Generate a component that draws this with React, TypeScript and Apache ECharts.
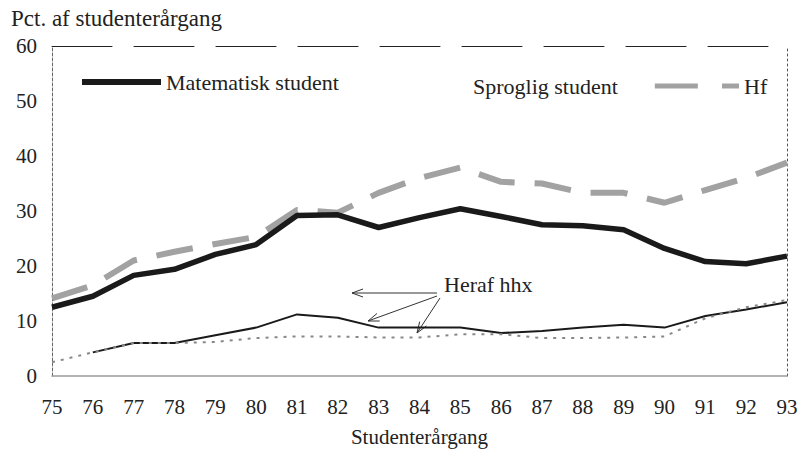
import React, { useEffect, useRef } from "react";
import * as echarts from "echarts";

const years = ["75", "76", "77", "78", "79", "80", "81", "82", "83", "84", "85", "86", "87", "88", "89", "90", "91", "92", "93"];
const matematisk = [12.5, 14.5, 18.3, 19.4, 22.1, 23.9, 29.2, 29.3, 27.0, 28.8, 30.4, 29.0, 27.5, 27.3, 26.6, 23.2, 20.8, 20.4, 21.8];
const sproglig = [14.1, 16.5, 21.0, 22.6, 24.0, 25.3, 30.2, 29.7, 33.3, 36.0, 37.9, 35.3, 35.0, 33.3, 33.3, 31.5, 33.8, 36.0, 38.8];
const matematiskHhx = [null, 4.3, 6.0, 6.0, 7.4, 8.8, 11.2, 10.6, 8.8, 8.8, 8.8, 7.8, 8.2, 8.8, 9.3, 8.8, 10.9, 12.1, 13.4];
const sprogligHhx = [2.5, 4.3, 6.0, 6.0, 6.2, 6.9, 7.2, 7.2, 7.0, 7.0, 7.6, 7.6, 6.9, 6.9, 7.0, 7.2, 10.5, 12.5, 13.8];
const hf: (number | null)[] = years.map(() => null);

const FONT = "'Liberation Serif', 'DejaVu Serif', serif";
const BLACK = "#1a1a1a";
const GREY = "#a2a2a2";

// annotation arrows: [tailX, tailY, tipX, tipY]
const arrows = [
  [437, 293, 352, 293],
  [437, 296, 368, 321],
  [440, 298, 417, 333],
];

function arrowGraphics() {
  const els: any[] = [];
  arrows.forEach(([tx, ty, hx, hy]) => {
    const dx = hx - tx;
    const dy = hy - ty;
    const len = Math.sqrt(dx * dx + dy * dy);
    const ux = dx / len;
    const uy = dy / len;
    const bx = hx - ux * 11;
    const by = hy - uy * 11;
    const px = -uy * 4;
    const py = ux * 4;
    els.push({
      type: "line",
      shape: { x1: tx, y1: ty, x2: hx, y2: hy },
      style: { stroke: "#333", lineWidth: 1 },
      silent: true,
    });
    els.push({
      type: "polyline",
      shape: { points: [[bx + px, by + py], [hx, hy], [bx - px, by - py]] },
      style: { stroke: "#333", lineWidth: 1, fill: null },
      silent: true,
    });
  });
  return els;
}

export default function App() {
  const ref = useRef<HTMLDivElement>(null);
  useEffect(() => {
    if (!ref.current) return;
    const chart = echarts.init(ref.current, null, { renderer: "svg" });
    chart.setOption({
      animation: false,
      backgroundColor: "#ffffff",
      title: {
        text: "Pct. af studenterårgang",
        left: 6,
        top: 2,
        textStyle: { fontFamily: FONT, fontSize: 23, fontWeight: "normal", color: "#222" },
      },
      legend: [
        {
          data: ["Matematisk student"],
          left: 77,
          top: 66,
          icon: "rect",
          itemWidth: 79,
          itemHeight: 6,
          textStyle: { fontFamily: FONT, fontSize: 22, color: "#222" },
        },
        {
          data: ["Sproglig student"],
          left: 468,
          top: 70,
          align: "right",
          icon: "rect",
          itemWidth: 43,
          itemHeight: 5,
          textStyle: { fontFamily: FONT, fontSize: 22, color: "#222", padding: [0, 32, 0, 0] },
        },
        {
          data: ["Hf"],
          left: 717,
          top: 70,
          icon: "rect",
          itemWidth: 17,
          itemHeight: 5,
          textStyle: { fontFamily: FONT, fontSize: 22, color: "#222" },
        },
      ],
      grid: { left: 52, right: 21, top: 46, bottom: 75, containLabel: false },
      xAxis: [
        {
          type: "category",
          data: years,
          boundaryGap: false,
          axisTick: { show: false },
          axisLine: { lineStyle: { color: "#9a9a9a", width: 1.5 } },
          axisLabel: { fontFamily: FONT, fontSize: 21, color: "#222", margin: 20 },
          name: "Studenterårgang",
          nameLocation: "middle",
          nameGap: 50,
          nameTextStyle: { fontFamily: FONT, fontSize: 21, color: "#222" },
        },
        {
          type: "category",
          data: years,
          boundaryGap: false,
          position: "top",
          axisTick: { show: false },
          axisLabel: { show: false },
          axisLine: { show: true, onZero: false, lineStyle: { color: "#222", width: 1, type: [60, 22] } },
        },
      ],
      yAxis: [
        {
          type: "value",
          min: 0,
          max: 60,
          interval: 10,
          axisTick: { show: false },
          splitLine: { show: false },
          axisLine: { show: true, lineStyle: { color: "#666", width: 1, type: [3, 2] } },
          axisLabel: { fontFamily: FONT, fontSize: 21, color: "#222", margin: 15 },
        },
        {
          type: "value",
          min: 0,
          max: 60,
          interval: 10,
          position: "right",
          axisTick: { show: false },
          splitLine: { show: false },
          axisLabel: { show: false },
          axisLine: { show: true, onZero: false, lineStyle: { color: "#555", width: 1, type: [2, 3] } },
        },
      ],
      series: [
        {
          name: "Sproglig student",
          type: "line",
          data: sproglig,
          symbol: "none",
          color: GREY,
          lineStyle: { color: GREY, width: 6, type: [37, 20] },
          z: 2,
        },
        {
          name: "Matematisk student",
          type: "line",
          data: matematisk,
          symbol: "none",
          color: BLACK,
          lineStyle: { color: BLACK, width: 5.5 },
          z: 3,
        },
        {
          name: "Hf",
          type: "line",
          data: hf,
          symbol: "none",
          color: GREY,
          lineStyle: { color: GREY, width: 5 },
        },
        {
          name: "Matematisk hhx",
          type: "line",
          data: matematiskHhx,
          symbol: "none",
          color: BLACK,
          lineStyle: { color: BLACK, width: 2 },
          z: 4,
        },
        {
          name: "Sproglig hhx",
          type: "line",
          data: sprogligHhx,
          symbol: "none",
          color: "#777",
          lineStyle: { color: "#888", width: 2, type: [3, 6] },
          z: 4,
        },
      ],
      graphic: [
        {
          type: "text",
          left: 444,
          top: 273,
          style: { text: "Heraf hhx", fontFamily: FONT, fontSize: 22, fill: "#222" },
          silent: true,
        },
        ...arrowGraphics(),
      ],
    });
    return () => chart.dispose();
  }, []);
  return <div ref={ref} style={{ position: "absolute", left: 0, top: 0, width: 808, height: 452 }} />;
}
